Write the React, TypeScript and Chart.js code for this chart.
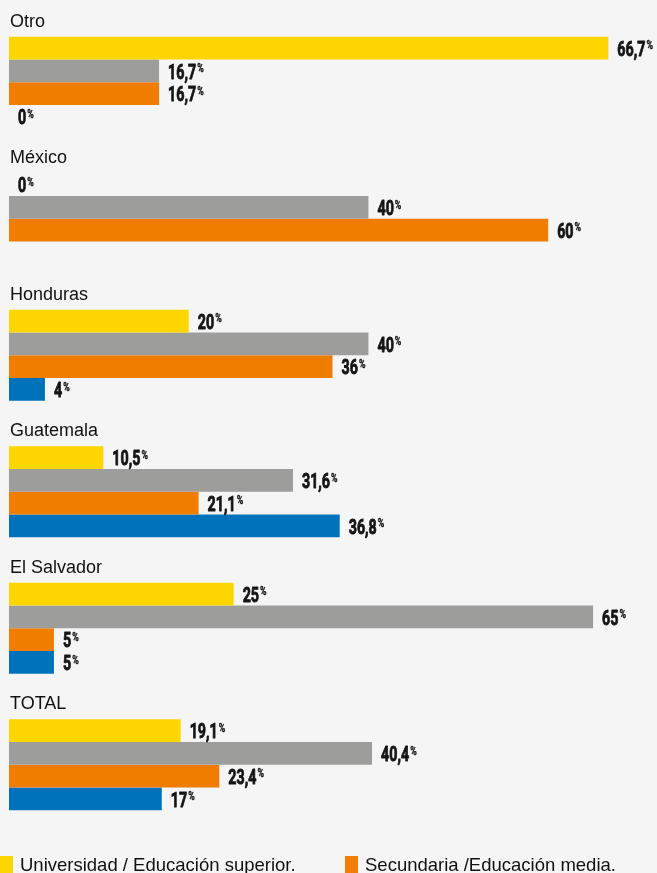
import React, { useEffect, useRef } from "react";
import { Chart, registerables } from "chart.js";

Chart.register(...registerables);

const categories = ["Otro", "México", "Honduras", "Guatemala", "El Salvador", "TOTAL"];
const seriesNames = [
  "Universidad / Educación superior.",
  "Primaria / Educación básica.",
  "Secundaria /Educación media.",
  "Sin estudios.",
];
const universidad = [66.7, 0, 20, 10.5, 25, 19.1];
const primaria = [16.7, 40, 40, 31.6, 65, 40.4];
const secundaria = [16.7, 60, 36, 21.1, 5, 23.4];
const sinEstudios: (number | null)[] = [0, null, 4, 36.8, 5, 17];
const colors = ["#FFD500", "#9D9D9B", "#F07D00", "#0072BC"];

const fmt = (v: number) => String(v).replace(".", ",");

const valuePlugin = {
  id: "valueLabels",
  afterDatasetsDraw(chart: any) {
    const ctx = chart.ctx;
    chart.data.datasets.forEach((ds: any, i: number) => {
      const meta = chart.getDatasetMeta(i);
      meta.data.forEach((el: any, j: number) => {
        const v = ds.data[j];
        if (v === null || v === undefined) return;
        const txt = fmt(v);
        ctx.save();
        ctx.translate(el.x + 9, el.y);
        ctx.scale(0.68, 1);
        ctx.fillStyle = "#151515";
        ctx.strokeStyle = "#151515";
        ctx.lineWidth = 0.9;
        ctx.lineJoin = "round";
        ctx.textAlign = "left";
        ctx.textBaseline = "alphabetic";
        ctx.font = "700 21px Roboto";
        ctx.fillText(txt, 0, 7.8);
        ctx.strokeText(txt, 0, 7.8);
        const w = ctx.measureText(txt).width;
        ctx.font = "700 13px Roboto";
        ctx.lineWidth = 0.4;
        ctx.fillText("%", w + 1.5, 1.3);
        ctx.strokeText("%", w + 1.5, 1.3);
        ctx.restore();
      });
    });
  },
};

const categoryPlugin = {
  id: "categoryLabels",
  afterDraw(chart: any) {
    const ctx = chart.ctx;
    const meta = chart.getDatasetMeta(0);
    ctx.save();
    ctx.fillStyle = "#111111";
    ctx.font = "18px 'Liberation Sans', Arial, sans-serif";
    ctx.textAlign = "left";
    ctx.textBaseline = "middle";
    meta.data.forEach((el: any, j: number) => {
      const top = el.y - el.height / 2;
      ctx.fillText(categories[j], 10, top - 15);
    });
    // legend
    ctx.font = "18.5px 'Liberation Sans', Arial, sans-serif";
    ctx.textBaseline = "alphabetic";
    const items = [
      { x: 0, y: 856, i: 0 },
      { x: 345, y: 856, i: 2 },
      { x: 0, y: 884, i: 1 },
      { x: 345, y: 884, i: 3 },
    ];
    items.forEach((it) => {
      ctx.fillStyle = colors[it.i];
      ctx.fillRect(it.x, it.y, 13, 17);
      ctx.fillStyle = "#111111";
      ctx.fillText(seriesNames[it.i], it.x + 20, it.y + 14.5);
    });
    ctx.restore();
  },
};

export default function App() {
  const ref = useRef<HTMLCanvasElement | null>(null);
  useEffect(() => {
    document.body.style.margin = "0";
    document.body.style.background = "#f5f5f5";
    if (!ref.current) return;
    const data = [universidad, primaria, secundaria, sinEstudios];
    const chart = new Chart(ref.current, {
      type: "bar",
      data: {
        labels: categories,
        datasets: data.map((d, i) => ({
          label: seriesNames[i],
          data: d,
          backgroundColor: colors[i],
          borderWidth: 0,
          categoryPercentage: 0.666,
          barPercentage: 1,
        })),
      },
      options: {
        indexAxis: "y",
        responsive: false,
        animation: false,
        layout: { padding: { left: 9, right: 1, top: 14, bottom: 40 } },
        scales: {
          x: { display: false, min: 0, max: 72 },
          y: { display: false },
        },
        plugins: {
          legend: { display: false },
          tooltip: { enabled: false },
        },
      },
      plugins: [valuePlugin, categoryPlugin],
    } as any);
    return () => chart.destroy();
  }, []);
  return (
    <div style={{ width: 657, height: 873, background: "#f5f5f5" }}>
      <canvas ref={ref} width={657} height={873} style={{ display: "block" }} />
    </div>
  );
}
